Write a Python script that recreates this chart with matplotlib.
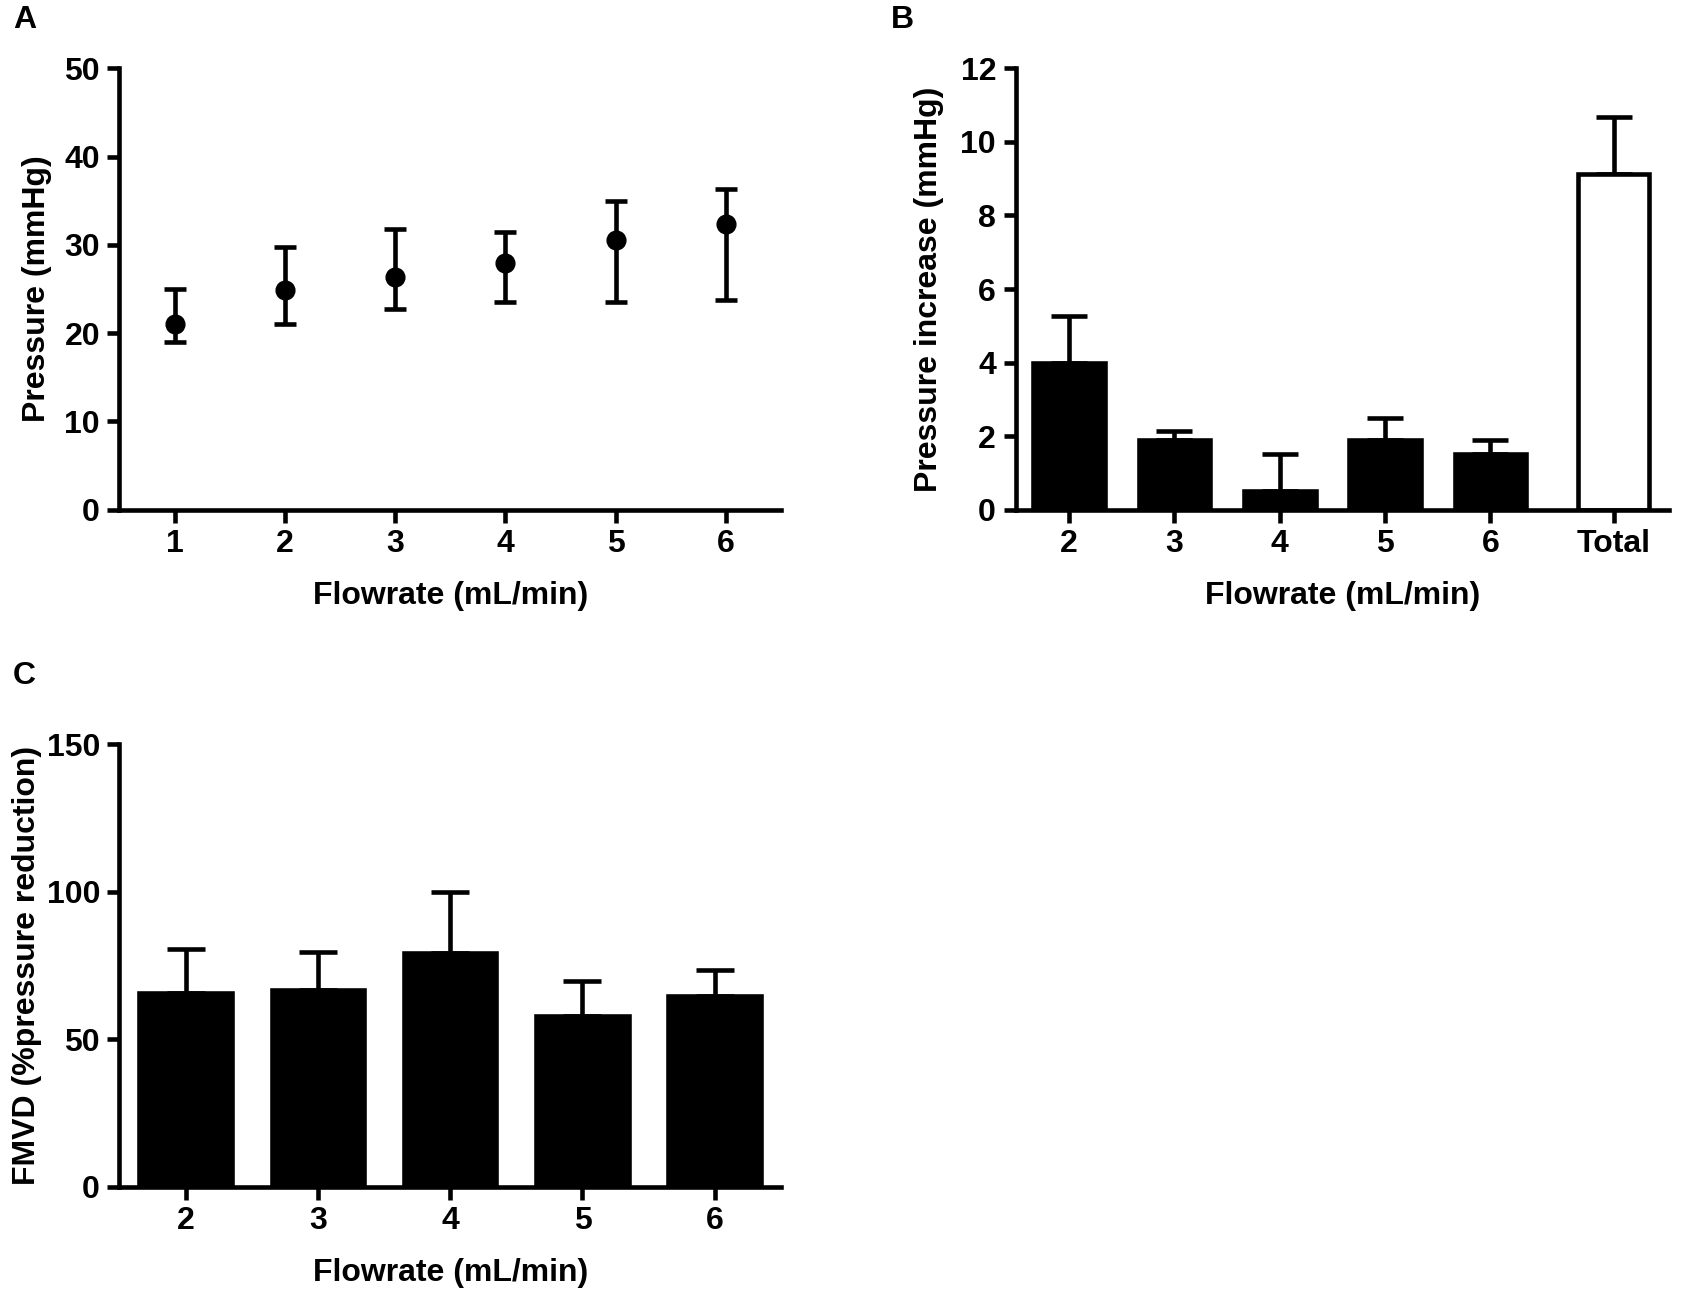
import numpy as np
import matplotlib.pyplot as plt

plt.rcParams['font.family'] = ['Liberation Sans', 'DejaVu Sans']
plt.rcParams['font.weight'] = 'bold'

# Panel A: pressure vs flowrate (mean with asymmetric error)
flow_a = [1, 2, 3, 4, 5, 6]
pressure = [21.0, 24.9, 26.4, 27.9, 30.5, 32.4]
pressure_lo = [19.0, 21.0, 22.7, 23.5, 23.5, 23.75]
pressure_hi = [25.0, 29.8, 31.8, 31.5, 35.0, 36.3]

# Panel B: pressure increase
labels_b = ['2', '3', '4', '5', '6', 'Total']
increase = [4.0, 1.9, 0.5, 1.9, 1.5, 9.13]
increase_err = [1.27, 0.25, 1.0, 0.58, 0.4, 1.54]

# Panel C: FMVD
labels_c = ['2', '3', '4', '5', '6']
fmvd = [65.5, 66.6, 79.2, 57.7, 64.5]
fmvd_err = [14.9, 13.1, 20.7, 12.1, 8.8]

W, H = 1568.0, 1190.0
fig = plt.figure(figsize=(17.03, 12.93), dpi=100)

def box(l, r, t, b):
    return [l / W, 1 - b / H, (r - l) / W, (b - t) / H]

ax_a = fig.add_axes(box(110, 719, 63, 469))
ax_b = fig.add_axes(box(935, 1537, 63, 469))
ax_c = fig.add_axes(box(110, 719, 685, 1092))

LW = 3.3
FS_TICK = 23
FS_LAB = 23

def style(ax):
    for s in ['top', 'right']:
        ax.spines[s].set_visible(False)
    for s in ['left', 'bottom']:
        ax.spines[s].set_linewidth(LW)
    ax.tick_params(width=LW, length=9, labelsize=FS_TICK, pad=5, direction='out')
    for lab in ax.get_xticklabels() + ax.get_yticklabels():
        lab.set_fontweight('bold')

# A
yerr_a = [np.array(pressure) - np.array(pressure_lo),
          np.array(pressure_hi) - np.array(pressure)]
ax_a.errorbar(flow_a, pressure, yerr=yerr_a, fmt='o', color='black',
              markersize=13.5, elinewidth=LW, capsize=8, capthick=LW)
ax_a.set_xlim(0.5, 6.5)
ax_a.set_ylim(0, 50)
ax_a.set_xticks(flow_a)
ax_a.set_yticks([0, 10, 20, 30, 40, 50])
ax_a.set_ylabel('Pressure (mmHg)', fontsize=FS_LAB, fontweight='bold', labelpad=9)
ax_a.set_xlabel('Flowrate (mL/min)', fontsize=FS_LAB, fontweight='bold', labelpad=16)
style(ax_a)

# B
pos_b = [0, 1, 2, 3, 4, 5.17]
colors_b = ['black'] * 5 + ['white']
ax_b.bar(pos_b, increase, width=0.68, color=colors_b, edgecolor='black',
         linewidth=LW, zorder=2)
ax_b.errorbar(pos_b, increase, yerr=[np.zeros(len(increase)), increase_err],
              fmt='none', ecolor='black', elinewidth=LW, capsize=13,
              capthick=LW, zorder=1)
ax_b.set_xlim(-0.51, 5.7)
ax_b.set_ylim(0, 12)
ax_b.set_xticks(pos_b)
ax_b.set_xticklabels(labels_b)
ax_b.set_yticks([0, 2, 4, 6, 8, 10, 12])
ax_b.set_ylabel('Pressure increase (mmHg)', fontsize=FS_LAB, fontweight='bold', labelpad=12)
ax_b.set_xlabel('Flowrate (mL/min)', fontsize=FS_LAB, fontweight='bold', labelpad=16)
style(ax_b)

# C
pos_c = np.arange(len(labels_c))
ax_c.bar(pos_c, fmvd, width=0.7, color='black', edgecolor='black',
         linewidth=LW, zorder=2)
ax_c.errorbar(pos_c, fmvd, yerr=[np.zeros(len(fmvd)), fmvd_err],
              fmt='none', ecolor='black', elinewidth=LW, capsize=14,
              capthick=LW, zorder=1)
ax_c.set_xlim(-0.5, 4.5)
ax_c.set_ylim(0, 150)
ax_c.set_xticks(pos_c)
ax_c.set_xticklabels(labels_c)
ax_c.set_yticks([0, 50, 100, 150])
ax_c.set_ylabel('FMVD (%pressure reduction)', fontsize=FS_LAB, fontweight='bold', labelpad=3)
ax_c.set_xlabel('Flowrate (mL/min)', fontsize=FS_LAB, fontweight='bold', labelpad=16)
style(ax_c)

fig.text(12 / W, 1 - 18 / H, 'A', fontsize=23, fontweight='bold', va='center')
fig.text(820 / W, 1 - 18 / H, 'B', fontsize=23, fontweight='bold', va='center')
fig.text(12 / W, 1 - 622 / H, 'C', fontsize=23, fontweight='bold', va='center')

fig.savefig('out.png', dpi=100, facecolor='white')
